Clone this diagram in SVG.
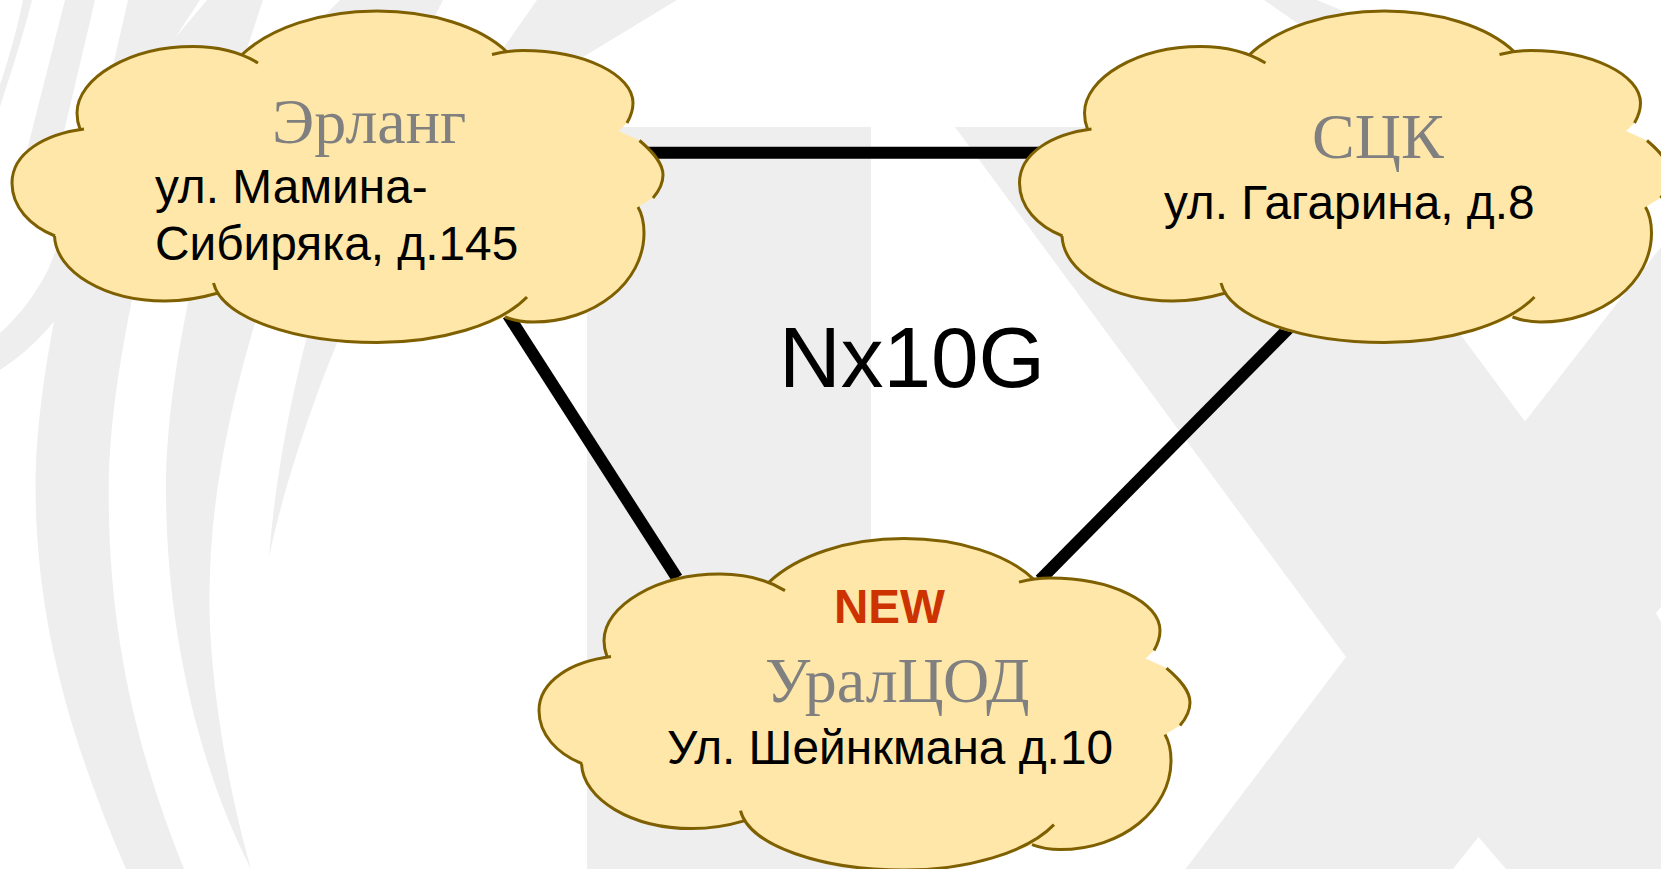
<svg xmlns="http://www.w3.org/2000/svg" width="1661" height="869" viewBox="0 0 1661 869">
<style>
.f{fill:#fee7a8;stroke:none}
.s{fill:none;stroke:#7f6000;stroke-width:3}
.c{stroke:#000;stroke-width:12;fill:none}
.t{font-family:"Liberation Sans",Arial,sans-serif;font-size:47.8px;fill:#000}
.h{font-family:"Liberation Serif","Times New Roman",serif;font-size:64px;fill:#808080}
.w{fill:#eee}
</style>
<defs>
<g id="cloud">
<path class="f" d="M80,129C45,134 12,153 12,183C12,207 30,226 55,236C56,272 105,301 165,301C183,301 201,298 218,293C235,325 300,342.5 377,342.5C425,342.5 470,333 505,317C513,320 522,322 533,322C595,322 644,282 644,233C644,223 642,214 638,207L653,198C659,191 663,183 663,175C663,163 653,152 639.5,140.5L618.5,131L627,123C631,116 633,110 633,103C633,75 585,50.5 523,50.5C517,50.5 512,51 507,52C480,26 430,11 377,11C320,11 270,28 241.5,55C225,48 210,46.5 193,46.5C130,46.5 77,78 77,113C77,119 78,124 80,129Z"/>
<path class="s" d="M84,129C45,134 12,153 12,183C12,207 30,226 55,236M54.5,236C56,272 105,301 165,301C183,301 201,298 218,293M213.5,283C222,318 295,342.5 377,342.5C440,342.5 500,325 527,297M505,317C513,320 522,322 533,322C595,322 644,282 644,233C644,223 642,214 638,207M653,198C659,191 663,183 663,175C663,163 653,152 639.5,140.5M627,123C631,116 633,110 633,103C633,75 585,50.5 523,50.5C512,50.5 502,52 492,54.5M507,52C480,26 430,11 377,11C320,11 270,28 241.5,55M258,63C240,52 218,46.5 193,46.5C130,46.5 77,78 77,113C77,119 78,124 80,129"/>
</g>
</defs>
<rect width="1661" height="869" fill="#fff"/>
<g id="background">
<path class="w" d="M23,0L32,0C22,40 10,75 0,107L0,85C10,55 18,25 23,0Z"/>
<path class="w" d="M65,0L95,0L55,170L22,170Z"/>
<path class="w" d="M128,0L200,0L175,38L207,0L263,0L240,70L112,70Z"/>
<path class="w" d="M340,0L443,0L433,20L320,20Z"/>
<path class="w" d="M537,0L677,0L578,60L495,60Z"/>
<path class="w" d="M0,333C20,315 35,295 48,270L66,225L90,225L55,320C35,345 15,360 0,370Z"/>
<path class="w" d="M72,240C47,340 35,430 35.6,489C36,620 70,740 126,869L184,869C140,760 108,640 108.7,489C109,420 122,340 145,240Z"/>
<path class="w" d="M195,270C175,360 166,430 166,489C166,620 195,760 251,869C220,760 208,650 209.6,590C210,500 230,400 265,290Z"/>
<path class="w" d="M310,325L345,325C320,380 285,480 269,557C275,480 290,400 310,325Z"/>
<rect class="w" x="587" y="127" width="284" height="742"/>
<path class="w" d="M1264,0L1317,0L1365,20L1300,25Z"/>
<path class="w" d="M955,127L1200,127L1461.6,336L1525,421.5L1661,247L1661,607L1656,613L1661,622L1661,869L1506,869L1478.5,837L1453,869L1185.5,869L1346,657Z"/>
</g>
<g id="connectors">
<line class="c" x1="640" y1="152.7" x2="1040" y2="152.7"/>
<line class="c" x1="508" y1="315" x2="677" y2="578"/>
<line class="c" x1="1290" y1="327" x2="1040" y2="580"/>
</g>
<g id="erlang"><use href="#cloud"/>
<text class="h" x="272" y="143">Эрланг</text>
<text class="t" x="155" y="203">ул. Мамина-</text>
<text class="t" x="155" y="260">Сибиряка, д.145</text></g>
<g id="sck"><use href="#cloud" x="1007.5"/>
<text class="h" x="1312" y="158">СЦК</text>
<text class="t" x="1164" y="219">ул. Гагарина, д.8</text></g>
<g id="uralcod"><use href="#cloud" x="527" y="527.6"/>
<text x="834" y="622.7" font-family="Liberation Sans" font-size="47.6" font-weight="bold" fill="#cc3300">NEW</text>
<text class="h" x="765" y="701.7">УралЦОД</text>
<text class="t" x="667" y="764">Ул. Шейнкмана д.10</text></g>
<text id="capacity" x="779" y="386.6" font-family="Liberation Sans" font-size="85.5" fill="#000">Nx10G</text>
</svg>
